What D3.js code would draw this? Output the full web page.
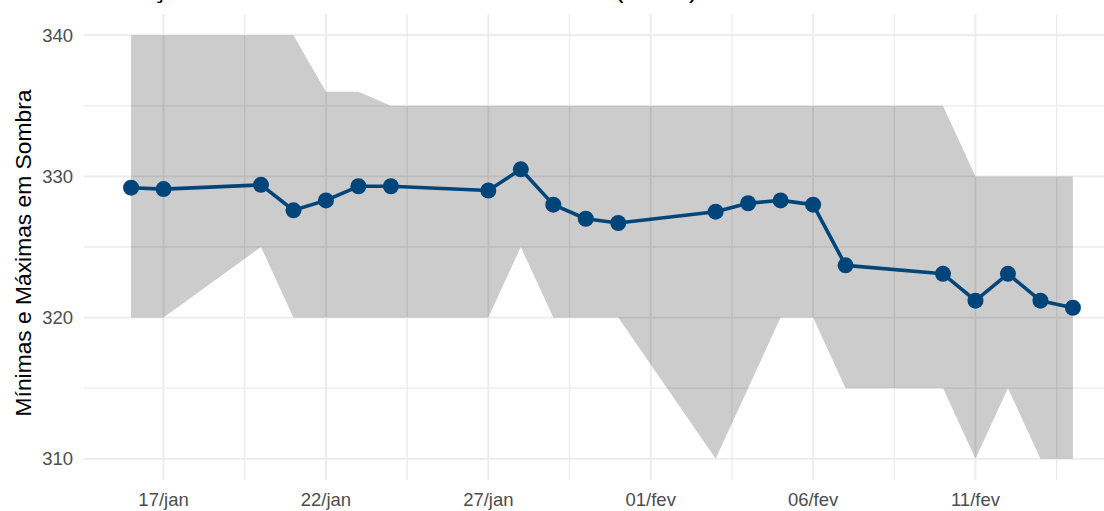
<!DOCTYPE html>
<html>
<head>
<meta charset="utf-8">
<script src="https://cdn.jsdelivr.net/npm/d3@7"></script>
<style>
  body { margin: 0; background: #fff; }
  svg { display: block; font-family: "Liberation Sans", Arial, sans-serif; }
</style>
</head>
<body>
<div id="chart"></div>
<script>
// Dias observados (jan/fev)
const dias = ["2021-01-16", "2021-01-17", "2021-01-20", "2021-01-21", "2021-01-22",
    "2021-01-23", "2021-01-24", "2021-01-27", "2021-01-28", "2021-01-29",
    "2021-01-30", "2021-01-31", "2021-02-03", "2021-02-04", "2021-02-05",
    "2021-02-06", "2021-02-07", "2021-02-10", "2021-02-11", "2021-02-12",
    "2021-02-13", "2021-02-14"];
const medias = [329.2, 329.1, 329.4, 327.6, 328.3, 329.3, 329.3, 329.0, 330.5, 328.0,
    327.0, 326.7, 327.5, 328.1, 328.3, 328.0, 323.7, 323.1, 321.2, 323.1, 321.2, 320.7];
const minimas = [320, 320, 325, 320, 320, 320, 320, 320, 325, 320,
    320, 320, 310, 315, 320, 320, 315, 315, 310, 315, 310, 310];
const maximas = [340, 340, 340, 340, 336, 336, 335, 335, 335, 335,
    335, 335, 335, 335, 335, 335, 335, 335, 330, 330, 330, 330];
const yTicks = [310, 320, 330, 340];
const yMinor = [315, 325, 335];
const titulo = "Evolução Média das Máximas em Sombra (em K)";
const yTitulo = "Mínimas e Máximas em Sombra";

const parse = d3.timeParse("%Y-%m-%d");
const data = dias.map((d, i) => ({
    date: parse(d), media: medias[i], min: minimas[i], max: maximas[i]
}));

const ptBR = d3.timeFormatLocale({
    dateTime: "%A, %e de %B de %Y. %X", date: "%d/%m/%Y", time: "%H:%M:%S",
    periods: ["AM", "PM"],
    days: ["domingo", "segunda", "terça", "quarta", "quinta", "sexta", "sábado"],
    shortDays: ["dom", "seg", "ter", "qua", "qui", "sex", "sáb"],
    months: ["janeiro", "fevereiro", "março", "abril", "maio", "junho", "julho",
        "agosto", "setembro", "outubro", "novembro", "dezembro"],
    shortMonths: ["jan", "fev", "mar", "abr", "mai", "jun", "jul", "ago", "set", "out", "nov", "dez"]
});
const fmt = ptBR.format("%d/%b");

const width = 1104, height = 511;
const panel = { left: 84, right: 1120, top: 14, bottom: 480 };

const svg = d3.select("#chart").append("svg")
    .attr("width", width)
    .attr("height", height);

// Scales (5% expansion like ggplot)
const [d0, d1] = d3.extent(data, d => d.date);
const pad = (d1 - d0) * 0.05;
const x = d3.scaleTime()
    .domain([new Date(+d0 - pad), new Date(+d1 + pad)])
    .range([panel.left, panel.right]);
const y = d3.scaleLinear()
    .domain([308.5, 341.5])
    .range([panel.bottom, panel.top]);

const majorX = d3.timeDay.range(parse("2021-01-17"), parse("2021-02-15"), 5);
const minorX = majorX.map(d => d3.timeHour.offset(d, 60));

// Grid
const grid = svg.append("g").attr("stroke", "#ebebeb");
grid.selectAll(".hmin").data(yMinor).join("line")
    .attr("x1", panel.left).attr("x2", panel.right)
    .attr("y1", d => y(d)).attr("y2", d => y(d))
    .attr("stroke-width", 1.3);
grid.selectAll(".hmaj").data(yTicks).join("line")
    .attr("x1", panel.left).attr("x2", panel.right)
    .attr("y1", d => y(d)).attr("y2", d => y(d))
    .attr("stroke-width", 1.8);
grid.selectAll(".vmin").data(minorX).join("line")
    .attr("y1", panel.top).attr("y2", panel.bottom)
    .attr("x1", d => x(d)).attr("x2", d => x(d))
    .attr("stroke-width", 1.3);
grid.selectAll(".vmaj").data(majorX).join("line")
    .attr("y1", panel.top).attr("y2", panel.bottom)
    .attr("x1", d => x(d)).attr("x2", d => x(d))
    .attr("stroke-width", 1.8);

// Ribbon min/max
const area = d3.area()
    .x(d => x(d.date))
    .y0(d => y(d.min))
    .y1(d => y(d.max));
svg.append("path")
    .datum(data)
    .attr("d", area)
    .attr("fill", "#000")
    .attr("fill-opacity", 0.2);

// Line + points
const line = d3.line()
    .x(d => x(d.date))
    .y(d => y(d.media));
svg.append("path")
    .datum(data)
    .attr("d", line)
    .attr("fill", "none")
    .attr("stroke", "#00457a")
    .attr("stroke-width", 3.6)
    .attr("stroke-linejoin", "round");
svg.append("g").selectAll("circle")
    .data(data)
    .join("circle")
        .attr("cx", d => x(d.date))
        .attr("cy", d => y(d.media))
        .attr("r", 8)
        .attr("fill", "#00457a");

// Axis labels
svg.append("g").selectAll("text")
    .data(yTicks)
    .join("text")
        .attr("x", 73)
        .attr("y", d => y(d))
        .attr("dy", "0.36em")
        .attr("text-anchor", "end")
        .attr("font-size", 18.5)
        .attr("fill", "#4d4d4d")
        .text(d => d);
svg.append("g").selectAll("text")
    .data(majorX)
    .join("text")
        .attr("x", d => x(d))
        .attr("y", 506)
        .attr("text-anchor", "middle")
        .attr("font-size", 18.5)
        .attr("fill", "#4d4d4d")
        .text(d => fmt(d));

svg.append("text")
    .attr("transform", `translate(31,${(panel.top + panel.bottom) / 2 + 6}) rotate(-90)`)
    .attr("text-anchor", "middle")
    .attr("font-size", 22.8)
    .attr("fill", "#000")
    .text(yTitulo);

// Title (cropped at the top in the reference)
svg.append("text")
    .attr("x", 82)
    .attr("y", -3)
    .attr("font-size", 28)
    .attr("fill", "#000")
    .text(titulo);
</script>
</body>
</html>
